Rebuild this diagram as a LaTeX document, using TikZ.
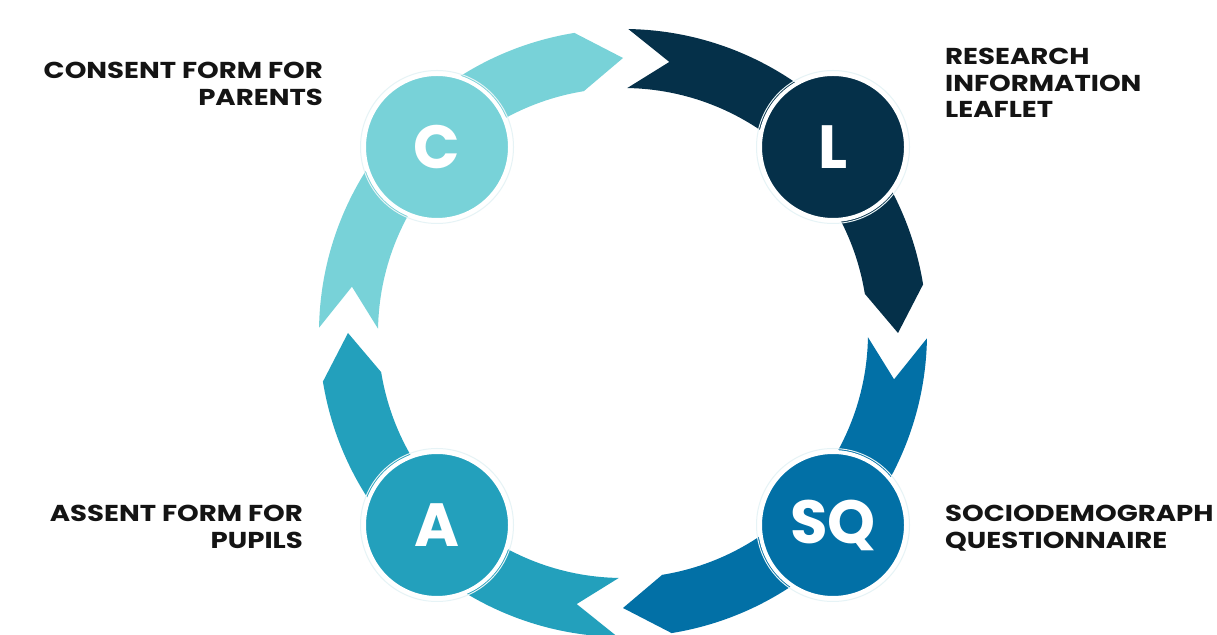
\documentclass[tikz,border=0pt]{standalone}
\usepackage{fontspec}
\setmainfont{Poppins}
\newfontfamily\lblfont{Poppins}[FakeStretch=1.2]
\definecolor{cC}{HTML}{78D2D8}
\definecolor{cL}{HTML}{053049}
\definecolor{cS}{HTML}{0270A6}
\definecolor{cA}{HTML}{23A0BC}
\definecolor{halo}{HTML}{E6F3F6}
\newcommand\ringseg[2]{%
  \pgfmathsetmacro\segS{#2-1}%
  \pgfmathsetmacro\segT{#2-90}%
  \pgfmathsetmacro\segH{#2-80.8}%
  \pgfmathsetmacro\segN{#2-9.7}%
  \fill[#1] (\segS:304) arc[start angle=\segS, end angle=\segH, radius=304]
    -- (\segT:275) -- (\segH:245) arc[start angle=\segH, end angle=\segS, radius=245]
    -- (\segN:275) -- cycle;}
\tikzset{
  badge/.style={circle, minimum size=146pt, inner sep=0pt, draw=white, line width=4pt,
    text=white, font=\fontsize{61}{61}\selectfont\bfseries},
  halo ring/.style={draw=halo, line width=1pt},
  lbl/.style={inner sep=0pt, font=\lblfont\fontsize{23}{26.5}\selectfont\bfseries, text=black!92}
}
\begin{document}
\begin{tikzpicture}[x=1pt,y=1pt]
\useasboundingbox (0,0) rectangle (1217,634);
\fill[white] (0,0) rectangle (1217,634);
\begin{scope}[shift={(623,301)}]
  \ringseg{cC}{180}
  \ringseg{cL}{90}
  \ringseg{cS}{0}
  \ringseg{cA}{270}
\end{scope}
\foreach \p/\q in {437/487,833/487,437/109,833/109}
  \draw[halo ring] (\p,\q) circle[radius=76.5];
\node[badge, fill=cC] (C) at (437,487) {C};
\node[badge, fill=cL] (L) at (833,487) {L};
\node[badge, fill=cS] (SQ) at (833,109) {SQ};
\node[badge, fill=cA] (A) at (437,109) {A};
\node[lbl, anchor=north east, align=right] (tC) at (323,572) {CONSENT FORM FOR\\PARENTS};
\node[lbl, anchor=north west, align=left] (tL) at (945,586) {RESEARCH\\INFORMATION\\LEAFLET};
\node[lbl, anchor=north west, align=left] (tS) at (945,129) {SOCIODEMOGRAPH\\QUESTIONNAIRE};
\node[lbl, anchor=north east, align=right] (tA) at (303,129) {ASSENT FORM FOR\\PUPILS};
\end{tikzpicture}
\end{document}
